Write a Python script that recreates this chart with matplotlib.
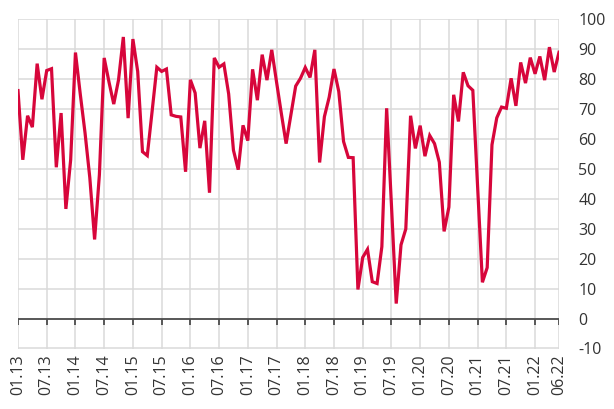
"""
Monthly index, 01.13 to 06.22, right-hand y axis.
"""
import matplotlib
matplotlib.use('Agg')
import matplotlib.pyplot as plt
import numpy as np

plt.rcParams['font.family'] = ['Open Sans', 'DejaVu Sans']

# one value per month, Jan 2013 .. Jun 2022
VALUES = [
    76.1, 53.0, 67.7, 63.9, 85.1, 73.2, 82.8, 83.4, 50.5, 68.6, 36.6, 53.0,   # 2013
    88.8, 75.0, 62.0, 47.0, 26.4, 48.0, 87.0, 79.0, 71.6, 79.7, 94.0, 66.9,   # 2014
    93.3, 82.5, 55.7, 54.4, 69.0, 83.9, 82.5, 83.3, 68.0, 67.5, 67.3, 49.0,   # 2015
    79.7, 75.3, 56.9, 66.0, 42.0, 87.0, 83.9, 85.0, 75.0, 56.2, 49.7, 64.5,   # 2016
    59.4, 83.2, 72.9, 88.1, 79.6, 89.7, 79.0, 68.5, 58.4, 68.0, 77.6, 80.2,   # 2017
    83.8, 80.5, 89.7, 52.1, 67.4, 73.9, 83.3, 75.8, 59.1, 53.8, 53.7, 9.7,    # 2018
    20.4, 23.1, 12.3, 11.7, 24.0, 70.2, 38.0, 5.0, 24.6, 29.9, 67.7, 56.8,    # 2019
    64.4, 54.2, 61.1, 58.4, 52.2, 29.1, 37.2, 74.7, 65.8, 82.2, 77.7, 76.2,   # 2020
    44.0, 12.1, 17.0, 58.0, 67.0, 70.6, 70.2, 80.2, 71.0, 85.5, 78.6, 87.1,   # 2021
    81.7, 87.5, 79.6, 90.6, 82.3, 88.9,                                       # 2022
]
TICK_MONTHS = [0, 6, 12, 18, 24, 30, 36, 42, 48, 54, 60, 66, 72, 78, 84, 90,
               96, 102, 108, 113]
TICK_LABELS = ['01.13', '07.13', '01.14', '07.14', '01.15', '07.15', '01.16',
               '07.16', '01.17', '07.17', '01.18', '07.18', '01.19', '07.19',
               '01.20', '07.20', '01.21', '07.21', '01.22', '06.22']
Y_TICKS = list(range(-10, 101, 10))

LINE_COLOR = '#D7063B'
GRID_COLOR = '#DADADA'
TEXT_COLOR = '#333333'

months = np.arange(len(VALUES))

fig = plt.figure(figsize=(6.14, 4.09), dpi=100)
ax = fig.add_axes([18 / 614, 1 - 348.5 / 409, 541 / 614, 329.5 / 409])

ax.set_xlim(0, 113)
ax.set_ylim(-10, 100)

# grid
for x in TICK_MONTHS:
    ax.axvline(x, color=GRID_COLOR, lw=1.1, zorder=1)
for y in Y_TICKS:
    ax.axhline(y, color=GRID_COLOR, lw=1.1, zorder=1)

# zero line with small ticks hanging below it
ax.axhline(0, color='#4D4D4D', lw=1.3, zorder=2)
ax.vlines(TICK_MONTHS, -2.1, 0, color='#4D4D4D', lw=1.3, zorder=2)

ax.plot(months, VALUES, color=LINE_COLOR, lw=2.3, zorder=3,
        solid_joinstyle='miter')

for side in ['top', 'bottom', 'left', 'right']:
    ax.spines[side].set_visible(False)

ax.yaxis.tick_right()
ax.set_yticks(Y_TICKS)
ax.set_yticklabels([str(v) for v in Y_TICKS])
ax.tick_params(axis='y', length=0, pad=14, labelsize=11.5, labelcolor=TEXT_COLOR)
for lab in ax.get_yticklabels():
    lab.set_horizontalalignment('left')

ax.set_xticks(TICK_MONTHS)
ax.set_xticklabels(TICK_LABELS, rotation=90)
ax.tick_params(axis='x', length=0, pad=4, labelsize=11.5, labelcolor=TEXT_COLOR)

fig.savefig('out.png', dpi=100)
